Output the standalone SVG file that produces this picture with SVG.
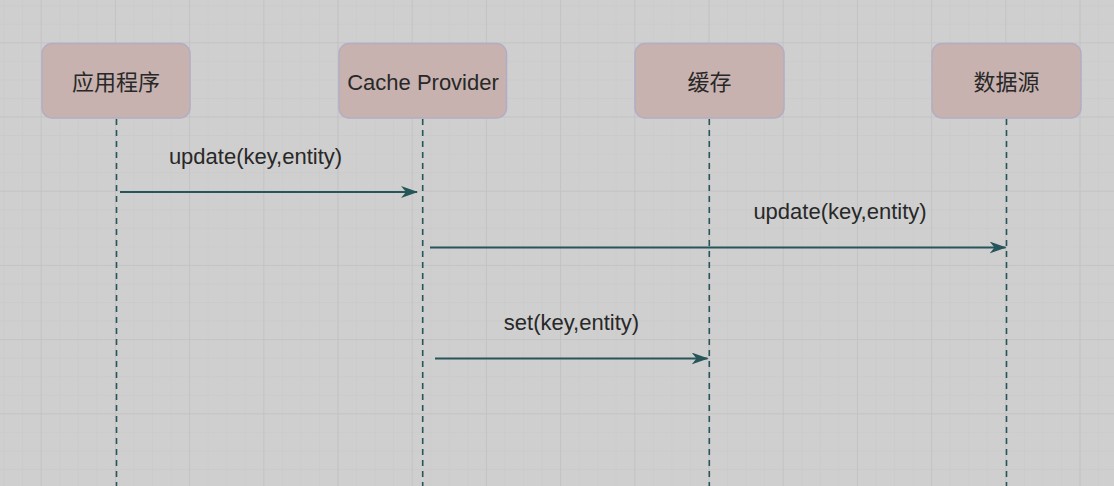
<svg xmlns="http://www.w3.org/2000/svg" width="1114" height="486" viewBox="0 0 1114 486">
<defs>
<pattern id="minor" x="4.6" y="6.2" width="18.55" height="18.55" patternUnits="userSpaceOnUse">
<path d="M18.55 0V18.55M0 18.55H18.55" fill="none" stroke="#c8c8c8" stroke-width="1"/>
</pattern>
<pattern id="major" x="-32.5" y="-30.9" width="74.2" height="74.2" patternUnits="userSpaceOnUse">
<path d="M74.2 0V74.2M0 74.2H74.2" fill="none" stroke="#c2c2c2" stroke-width="1.6"/>
</pattern>
<marker id="arr" viewBox="0 0 17 12" refX="16" refY="6" markerWidth="17" markerHeight="12" markerUnits="userSpaceOnUse" orient="auto">
<path d="M0 0L17 6L0 12L5 6Z" fill="#26555a"/>
</marker>
<style>
.box{fill:#c7b2af;stroke:#b3adc3;stroke-width:1.5}
.lbl{font-family:"Liberation Sans","Noto Sans CJK SC",Arial,sans-serif;font-size:22px;fill:#282828;text-anchor:middle}
.life{stroke:#26555a;stroke-width:1.6;stroke-dasharray:6 5;fill:none}
.msg{stroke:#26555a;stroke-width:2;fill:none;marker-end:url(#arr)}
</style>
</defs>
<rect width="1114" height="486" fill="#cfcfcf"/>
<rect width="1114" height="486" fill="url(#minor)"/>
<rect width="1114" height="486" fill="url(#major)"/>
<g id="lifelines">
<line class="life" x1="116.5" y1="119" x2="116.5" y2="486"/>
<line class="life" x1="422.7" y1="119" x2="422.7" y2="486"/>
<line class="life" x1="709.3" y1="119" x2="709.3" y2="486"/>
<line class="life" x1="1006.5" y1="119" x2="1006.5" y2="486"/>
</g>
<g id="node-app"><rect class="box" x="42" y="43.5" width="148" height="74.5" rx="10"/><text class="lbl" x="116" y="90">应用程序</text></g>
<g id="node-cache-provider"><rect class="box" x="339" y="43.5" width="167.5" height="74.5" rx="10"/><text class="lbl" x="423" y="90">Cache Provider</text></g>
<g id="node-cache"><rect class="box" x="635" y="43.5" width="149" height="74.5" rx="10"/><text class="lbl" x="709.5" y="90">缓存</text></g>
<g id="node-datasource"><rect class="box" x="932" y="43.5" width="149" height="74.5" rx="10"/><text class="lbl" x="1006.5" y="90">数据源</text></g>
<g id="connectors">
<line class="msg" x1="120" y1="192" x2="417" y2="192"/>
<text class="lbl" x="255.5" y="164">update(key,entity)</text>
<line class="msg" x1="430" y1="247.5" x2="1005.5" y2="247.5"/>
<text class="lbl" x="840" y="219">update(key,entity)</text>
<line class="msg" x1="435" y1="358.5" x2="707.5" y2="358.5"/>
<text class="lbl" x="571.5" y="330">set(key,entity)</text>
</g>
</svg>
